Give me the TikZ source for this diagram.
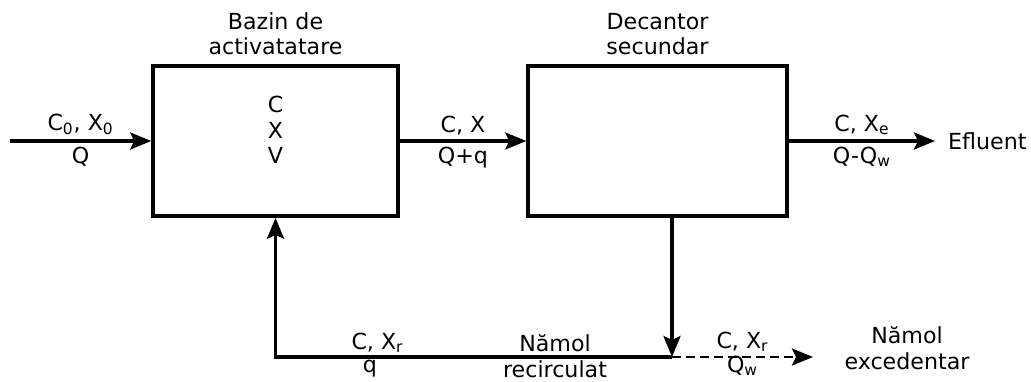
\documentclass[tikz,border=0pt]{standalone}
\usepackage{fontspec}
\setmainfont{DejaVu Sans}
\usetikzlibrary{arrows.meta,positioning}

\begin{document}
\begin{tikzpicture}[every node/.style={font=\fontsize{12.6}{14.5}\selectfont}, >={Stealth[length=4.2mm,width=3.4mm,inset=0.8mm]},
	unit/.style={draw, line width=2pt, minimum width=4.9cm, minimum height=3cm},
	flow/.style={line width=2pt}]
	\useasboundingbox (0,0) rectangle (20.62,7.62);
	\node[unit] (bazin) at (5.51,4.80) {};
	\node[unit, minimum width=5.18cm] (decantor) at (13.15,4.80) {};
	\node[above=0.06cm of bazin, align=center] (tbazin) {Bazin de\\activatatare};
	\node[above=0.06cm of decantor, align=center] (tdec) {Decantor\\secundar};
	\node[align=center] (cxv) at (5.51,5.02) {C\\X\\V};
	\coordinate (in) at (0.2,4.80);
	\coordinate (out) at (18.7,4.80);
	\coordinate (split) at (13.44,0.48);
	\coordinate (corner) at (bazin.south |- split);
	\coordinate (waste) at (16.26,0.48);
	\node[right=0.14cm of out] (efl) {Efluent};
	\node[align=center] (exc) at (18.14,0.66) {Nămol\\excedentar};
	% main line
	\draw[flow, ->] (in) -- node[above=-1pt] {C\textsubscript{0}, X\textsubscript{0}} node[below=-1pt] {Q} (bazin.west);
	\draw[flow, ->] (bazin.east) -- node[above=-1pt] {C, X} node[below=-1pt] {Q+q} (decantor.west);
	\draw[flow, ->] (decantor.east) -- node[above=-1pt] {C, X\textsubscript{e}} node[below=-1pt] {Q-Q\textsubscript{w}} (out);
	% sludge
	\draw[flow, ->] (decantor.south -| split) -- (split);
	\draw[flow, ->] (split) -- (corner) -- (bazin.south);
	\node[above=-1pt] (lr) at (7.55,0.48) {C, X\textsubscript{r}};
	\node[below=-2pt] (lq) at (7.4,0.48) {q};
	\node[align=center, inner sep=1pt] (rec) at (11.1,0.5) {Nămol\\recirculat};
	\draw[flow, line width=1.6pt, dash pattern=on 0.17cm off 0.11cm, ->] (split) -- node[above=-1pt] {C, X\textsubscript{r}} node[below=-2.5pt, inner sep=1pt] {Q\textsubscript{w}} (waste);
\end{tikzpicture}
\end{document}
